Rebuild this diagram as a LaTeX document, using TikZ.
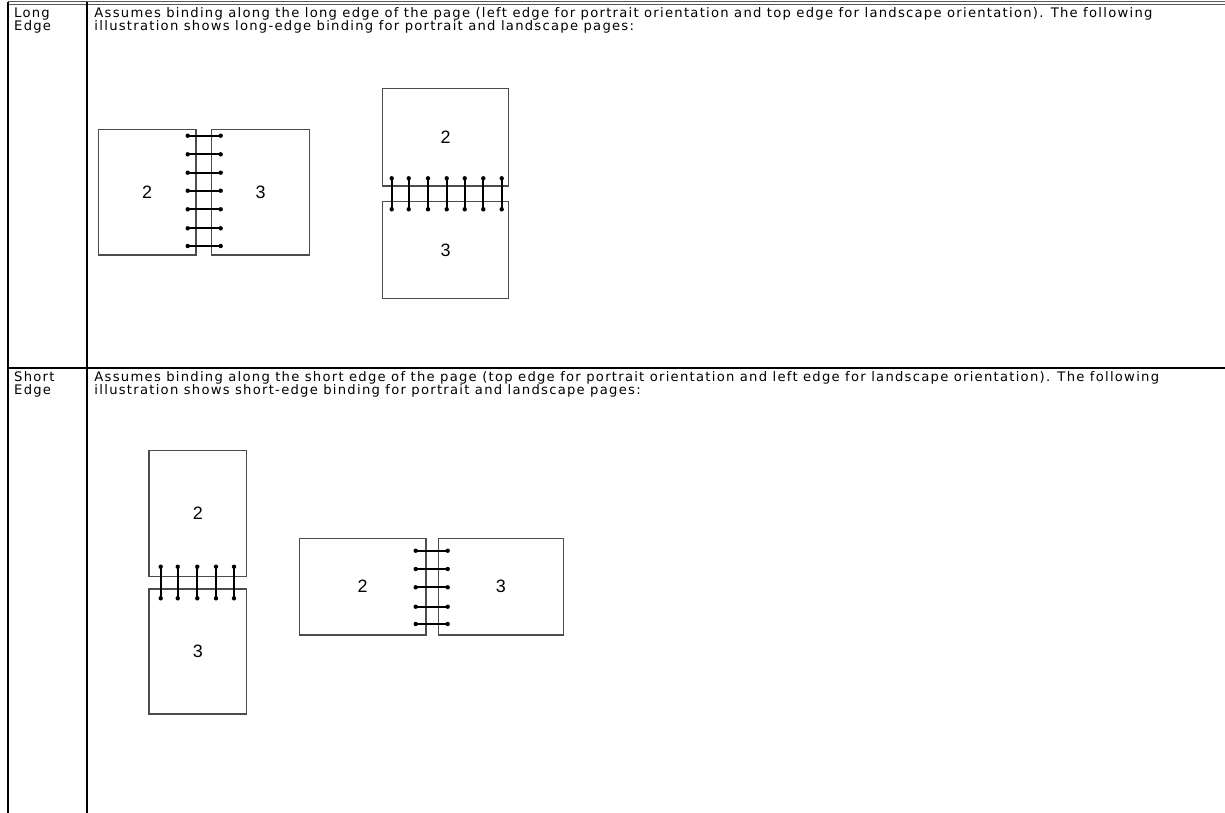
\documentclass[tikz,border=0pt]{standalone}
\usepackage{fontspec}
\setmainfont{DejaVu Sans}
\newfontfamily\celltextfont{DejaVu Sans}[LetterSpace=9.6]
\newfontfamily\digitfont{Liberation Sans}
\begin{document}
\begin{tikzpicture}[x=1bp,y=-1bp,
  tabline/.style={line width=2bp, black},
  topline/.style={line width=1bp, black!65},
  page/.style={draw=black!70, line width=1.2bp, inner sep=0pt,
    font=\digitfont\fontsize{18}{18}\selectfont},
  wire/.style={line width=1.7bp, black},
  dotend/.style={circle, fill=black, inner sep=0pt, minimum size=4.4bp},
  celltext/.style={anchor=base west, inner sep=0pt, font=\celltextfont\fontsize{13.2}{14}\selectfont}]
\useasboundingbox (0,0) rectangle (1225,813);
\fill[white] (0,0) rectangle (1225,813);

% table frame
\coordinate (tl) at (7.5,2);
\coordinate (tr) at (1225,2);
\coordinate (tl2) at (7.5,4.5);
\coordinate (tr2) at (1225,4.5);
\draw[topline] (tl) -- (tr);
\draw[topline] (tl2) -- (tr2);
\coordinate (lb1) at (8.3,2);
\coordinate (lb2) at (8.3,813);
\coordinate (cd1) at (87,2);
\coordinate (cd2) at (87,813);
\coordinate (rd1) at (8.3,368);
\coordinate (rd2) at (1225,368);
\draw[tabline] (lb1) -- (lb2);
\draw[tabline] (cd1) -- (cd2);
\draw[tabline] (rd1) -- (rd2);

% texts
\node[celltext] (t1a) at (14,18) {Long};
\node[celltext] (t1b) at (14,31) {Edge};
\node[celltext] (t1c) at (94.3,18) {Assumes binding along the long edge of the page (left edge for portrait orientation and top edge for landscape orientation). The following};
\node[celltext] (t1d) at (94.3,31) {illustration shows long-edge binding for portrait and landscape pages:};
\node[celltext] (t2a) at (14,381.5) {Short};
\node[celltext] (t2b) at (14,394.5) {Edge};
\node[celltext] (t2c) at (94.3,381.5) {Assumes binding along the short edge of the page (top edge for portrait orientation and left edge for landscape orientation). The following};
\node[celltext] (t2d) at (94.3,394.5) {illustration shows short-edge binding for portrait and landscape pages:};

% illustration 1: long edge, portrait
\node[page, minimum width=97.7bp, minimum height=125.7bp] (a2) at (147.15,192.15) {2};
\node[page, minimum width=97.6bp, minimum height=125.7bp] (a3) at (260.5,192.15) {3};
\foreach \y [count=\i] in {135.7,154.3,172.7,190.7,209.3,228.3,246} {
  \node[dotend] (aw\i l) at (187.7,\y) {};
  \node[dotend] (aw\i r) at (220.7,\y) {};
  \draw[wire] (aw\i l.center) -- (aw\i r.center);
}

% illustration 2: long edge, landscape
\node[page, minimum width=125.6bp, minimum height=97.7bp] (b2) at (445.5,137.15) {2};
\node[page, minimum width=125.6bp, minimum height=96.6bp] (b3) at (445.5,250) {3};
\foreach \x [count=\i] in {391.7,408.7,428,446.7,464.7,483.3,501.7} {
  \node[dotend] (bw\i t) at (\x,178.3) {};
  \node[dotend] (bw\i b) at (\x,209.3) {};
  \draw[wire] (bw\i t.center) -- (bw\i b.center);
}

% illustration 3: short edge, portrait
\node[page, minimum width=97.7bp, minimum height=126bp] (c2) at (197.85,513.7) {2};
\node[page, minimum width=97.7bp, minimum height=125bp] (c3) at (197.85,651.5) {3};
\foreach \x [count=\i] in {160.7,177.7,197.3,216,234} {
  \node[dotend] (cw\i t) at (\x,566.7) {};
  \node[dotend] (cw\i b) at (\x,598.3) {};
  \draw[wire] (cw\i t.center) -- (cw\i b.center);
}

% illustration 4: short edge, landscape
\node[page, minimum width=126.7bp, minimum height=96.7bp] (d2) at (362.65,586.65) {2};
\node[page, minimum width=125bp, minimum height=96.7bp] (d3) at (500.8,586.65) {3};
\foreach \y [count=\i] in {550.7,569,587.3,606.7,624} {
  \node[dotend] (dw\i l) at (415.7,\y) {};
  \node[dotend] (dw\i r) at (447.7,\y) {};
  \draw[wire] (dw\i l.center) -- (dw\i r.center);
}
\end{tikzpicture}
\end{document}
